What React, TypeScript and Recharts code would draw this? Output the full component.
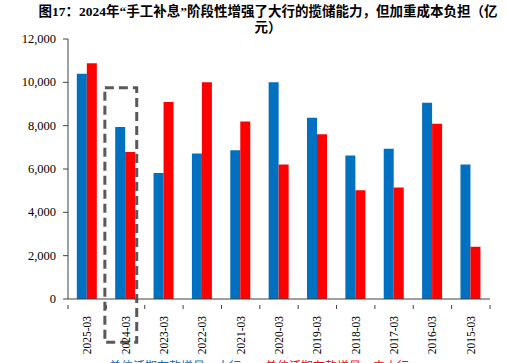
import React from 'react';
import { BarChart, Bar, XAxis, YAxis, Legend, ReferenceArea } from 'recharts';

const months = ['2025-03', '2024-03', '2023-03', '2022-03', '2021-03', '2020-03', '2019-03', '2018-03', '2017-03', '2016-03', '2015-03'];
const bigBanks = [10400, 7940, 5820, 6710, 6860, 10000, 8370, 6620, 6940, 9060, 6210];
const otherBanks = [10880, 6790, 9090, 10000, 8190, 6210, 7600, 5020, 5150, 8090, 2410];
const yTicks = [0, 2000, 4000, 6000, 8000, 10000, 12000];
const seriesNames = ['单位活期存款增量：大行', '单位活期存款增量：中小行'];

const highlight = { month: '2024-03', bottom: -2000, top: 9750 };

const serif = '"Liberation Serif", "Times New Roman", "Noto Sans CJK SC", serif';

const chartData = months.map((m, i) => ({
  month: m,
  big: bigBanks[i],
  other: otherBanks[i],
}));

const fmt = (v: number) => v.toLocaleString('en-US');

// excel-style ticks sit on category boundaries, labels stay centred
const XTick = (props: any) => {
  const { x, y, payload, index, visibleTicksCount } = props;
  const band = 422 / months.length;
  return (
    <g>
      <line x1={x - band / 2} y1={y - 2} x2={x - band / 2} y2={y + 2} stroke="#404040" />
      {index === visibleTicksCount - 1 && (
        <line x1={x + band / 2} y1={y - 2} x2={x + band / 2} y2={y + 2} stroke="#404040" />
      )}
      <text
        x={0}
        y={0}
        transform={`translate(${x + 4},${y + 9}) rotate(-90)`}
        textAnchor="end"
        fontSize={11.5}
        style={{ fontFamily: serif }}
        fill="#000"
      >
        {payload.value}
      </text>
    </g>
  );
};

const YTick = (props: any) => {
  const { x, y, payload } = props;
  return (
    <text x={x} y={y} dy={4} textAnchor="end" fontSize={12.5} style={{ fontFamily: serif }} fill="#000">
      {fmt(payload.value)}
    </text>
  );
};

const DashedBox = (props: any) => {
  const { x, y, width, height } = props;
  return (
    <rect
      x={x - 1.5}
      y={y}
      width={width - 6.5}
      height={height}
      fill="none"
      stroke="#595959"
      strokeWidth={3}
      strokeDasharray="9 5"
    />
  );
};

export default function App() {
  return (
    <div style={{ position: 'absolute', left: 0, top: 0, width: 507, height: 363, overflow: 'hidden', background: '#fff' }}>
      <div
        style={{
          position: 'absolute',
          left: 22,
          top: 4,
          width: 492,
          textAlign: 'center',
          fontFamily: serif,
          fontWeight: 'bold',
          fontSize: 13.5,
          lineHeight: '16px',
          color: '#000',
        }}
      >
        图17：2024年“手工补息”阶段性增强了大行的揽储能力，但加重成本负担（亿
        <br />
        元）
      </div>
      <BarChart
        width={507}
        height={390}
        data={chartData}
        margin={{ top: 39, right: 17, bottom: 0, left: 0 }}
        barCategoryGap="23%"
        barGap={0}
      >
        <XAxis
          dataKey="month"
          height={55}
          interval={0}
          tickLine={false}
          tick={<XTick />}
          axisLine={{ stroke: '#404040' }}
        />
        <YAxis
          width={68}
          domain={[0, 12000]}
          ticks={yTicks}
          tickSize={5}
          tickMargin={7}
          tick={<YTick />}
          axisLine={{ stroke: '#404040' }}
          tickLine={{ stroke: '#404040' }}
          allowDataOverflow
        />
        <Legend
          verticalAlign="bottom"
          height={36}
          iconSize={10}
          itemSorter="dataKey"
          wrapperStyle={{ fontSize: 12, fontFamily: serif, color: '#000', paddingLeft: 12, top: 357, bottom: 'auto' }}
        />
        <Bar dataKey="big" name={seriesNames[0]} fill="#0070C0" isAnimationActive={false} />
        <Bar dataKey="other" name={seriesNames[1]} fill="#FF0000" isAnimationActive={false} />
        <ReferenceArea
          x1={highlight.month}
          x2={highlight.month}
          y1={highlight.bottom}
          y2={highlight.top}
          ifOverflow="visible"
          shape={<DashedBox />}
        />
      </BarChart>
    </div>
  );
}
